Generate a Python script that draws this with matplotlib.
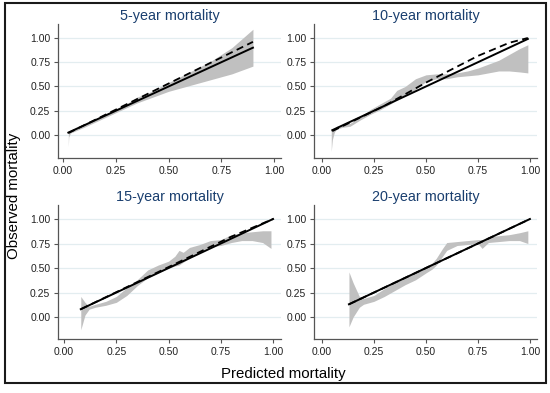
import numpy as np
import matplotlib
matplotlib.use("Agg")
import matplotlib.pyplot as plt
from matplotlib.patches import Rectangle

plt.rcParams["font.family"] = ["Liberation Sans", "DejaVu Sans"]

# 5-year
x5 = [0.025, 0.027, 0.035, 0.1, 0.15, 0.2, 0.25, 0.3, 0.35, 0.4, 0.5, 0.6, 0.7, 0.75, 0.8, 0.9]
lo5 = [-0.12, -0.02, 0.02, 0.08, 0.13, 0.18, 0.23, 0.28, 0.33, 0.37, 0.45, 0.51, 0.57, 0.60, 0.63, 0.71]
hi5 = [0.02, 0.03, 0.04, 0.11, 0.15, 0.21, 0.27, 0.32, 0.39, 0.43, 0.54, 0.65, 0.76, 0.83, 0.90, 1.09]
fit5_x = [0.025, 0.9]
fit5_y = [0.02, 0.96]

# 10-year
x10 = [0.045, 0.05, 0.06, 0.07, 0.1, 0.135, 0.18, 0.23, 0.28, 0.33, 0.36, 0.4, 0.45,
       0.5, 0.55, 0.6, 0.65, 0.7, 0.75, 0.8, 0.85, 0.9, 0.95, 0.99]
lo10 = [-0.17, -0.05, 0.03, 0.06, 0.08, 0.09, 0.15, 0.21, 0.26, 0.32, 0.36, 0.41, 0.47,
        0.55, 0.58, 0.58, 0.60, 0.61, 0.62, 0.64, 0.66, 0.66, 0.65, 0.64]
hi10 = [0.05, 0.06, 0.07, 0.09, 0.11, 0.12, 0.18, 0.26, 0.32, 0.38, 0.46, 0.50, 0.58,
        0.62, 0.63, 0.63, 0.64, 0.66, 0.69, 0.73, 0.77, 0.83, 0.89, 0.93]
fit10_x = [0.05, 0.3, 0.5, 0.75, 0.9, 0.99]
fit10_y = [0.04, 0.30, 0.54, 0.815, 0.95, 1.0]

# 15-year
x15 = [0.08, 0.1, 0.12, 0.15, 0.2, 0.25, 0.3, 0.35, 0.4, 0.45, 0.5, 0.53, 0.55, 0.57,
       0.6, 0.65, 0.7, 0.75, 0.8, 0.85, 0.9, 0.95, 0.99]
lo15 = [-0.13, 0.02, 0.08, 0.10, 0.12, 0.15, 0.22, 0.32, 0.40, 0.45, 0.50, 0.52, 0.53, 0.56,
        0.60, 0.67, 0.72, 0.73, 0.76, 0.78, 0.78, 0.76, 0.70]
hi15 = [0.21, 0.15, 0.11, 0.13, 0.16, 0.21, 0.30, 0.38, 0.48, 0.53, 0.57, 0.62, 0.68, 0.66,
        0.71, 0.74, 0.78, 0.79, 0.84, 0.86, 0.87, 0.88, 0.88]
fit15_x = [0.08, 0.5, 0.8, 1.0]
fit15_y = [0.08, 0.51, 0.82, 1.0]

# 20-year
x20 = [0.13, 0.15, 0.18, 0.2, 0.25, 0.3, 0.35, 0.4, 0.45, 0.5, 0.53, 0.55, 0.58, 0.6,
       0.65, 0.7, 0.75, 0.77, 0.8, 0.85, 0.9, 0.95, 0.99]
lo20 = [-0.10, 0.0, 0.10, 0.13, 0.16, 0.21, 0.27, 0.33, 0.38, 0.45, 0.49, 0.53, 0.62, 0.68,
        0.73, 0.74, 0.75, 0.70, 0.76, 0.77, 0.78, 0.78, 0.75]
hi20 = [0.46, 0.35, 0.21, 0.19, 0.22, 0.29, 0.35, 0.41, 0.46, 0.52, 0.55, 0.60, 0.70, 0.76,
        0.77, 0.78, 0.79, 0.79, 0.82, 0.83, 0.84, 0.86, 0.88]
fit20_x = [0.13, 1.0]
fit20_y = [0.13, 1.0]

titles = ["5-year mortality", "10-year mortality", "15-year mortality", "20-year mortality"]
ticks = [0, 0.25, 0.5, 0.75, 1.0]

W, H = 550, 393
fig = plt.figure(figsize=(5.5, 3.93), dpi=100)

# panel boxes in pixels: left, top, right, bottom, xlim, ylim
boxes = [
    (58, 24, 281, 158, (-0.024, 1.033), (-0.237, 1.144)),
    (314, 24, 537, 158, (-0.038, 1.034), (-0.237, 1.144)),
    (58, 205, 281, 339, (-0.029, 1.038), (-0.224, 1.143)),
    (314, 205, 537, 339, (-0.038, 1.034), (-0.224, 1.143)),
]
panels = [
    (x5, lo5, hi5, fit5_x, fit5_y),
    (x10, lo10, hi10, fit10_x, fit10_y),
    (x15, lo15, hi15, fit15_x, fit15_y),
    (x20, lo20, hi20, fit20_x, fit20_y),
]

for (l, t, r, b, xl, yl), (bx, blo, bhi, fx, fy), title in zip(boxes, panels, titles):
    ax = fig.add_axes([l / W, (H - b) / H, (r - l) / W, (b - t) / H])
    ax.fill_between(bx, blo, bhi, color="#c0c0c0", lw=0, zorder=2)
    ax.plot(fx, fy, color="black", lw=1.3, ls=(0, (4, 2.5)), zorder=3)
    ax.plot([fx[0], fx[-1]], [fx[0], fx[-1]], color="black", lw=1.4, zorder=4)
    ax.set_xlim(*xl)
    ax.set_ylim(*yl)
    ax.set_xticks(ticks)
    ax.set_yticks(ticks)
    ax.set_xticklabels([f"{v:.2f}" for v in ticks])
    ax.set_yticklabels([f"{v:.2f}" for v in ticks])
    ax.yaxis.grid(True, color="#e3edf0", lw=0.9, zorder=0)
    ax.set_axisbelow(True)
    for s in ["top", "right"]:
        ax.spines[s].set_visible(False)
    for s in ["left", "bottom"]:
        ax.spines[s].set_color("#555555")
        ax.spines[s].set_linewidth(0.9)
    ax.tick_params(labelsize=7.5, length=3, width=0.8, color="#555555", pad=2.5,
                   labelcolor="#222222")
    ax.set_title(title, fontsize=10.4, color="#1a3f6f", pad=3)

fig.text(14 / W, 1 - 196 / H, "Observed mortality", rotation=90, fontsize=10.8,
         ha="center", va="center")
fig.text(283 / W, 1 - 374 / H, "Predicted mortality", fontsize=10.8,
         ha="center", va="center")

fig.patches.append(Rectangle((5 / W, 1 - 383 / H), 541 / W, 380 / H,
                             transform=fig.transFigure, fill=False,
                             edgecolor="#1a1a1a", lw=1.5))

fig.savefig("out.png", dpi=100)
